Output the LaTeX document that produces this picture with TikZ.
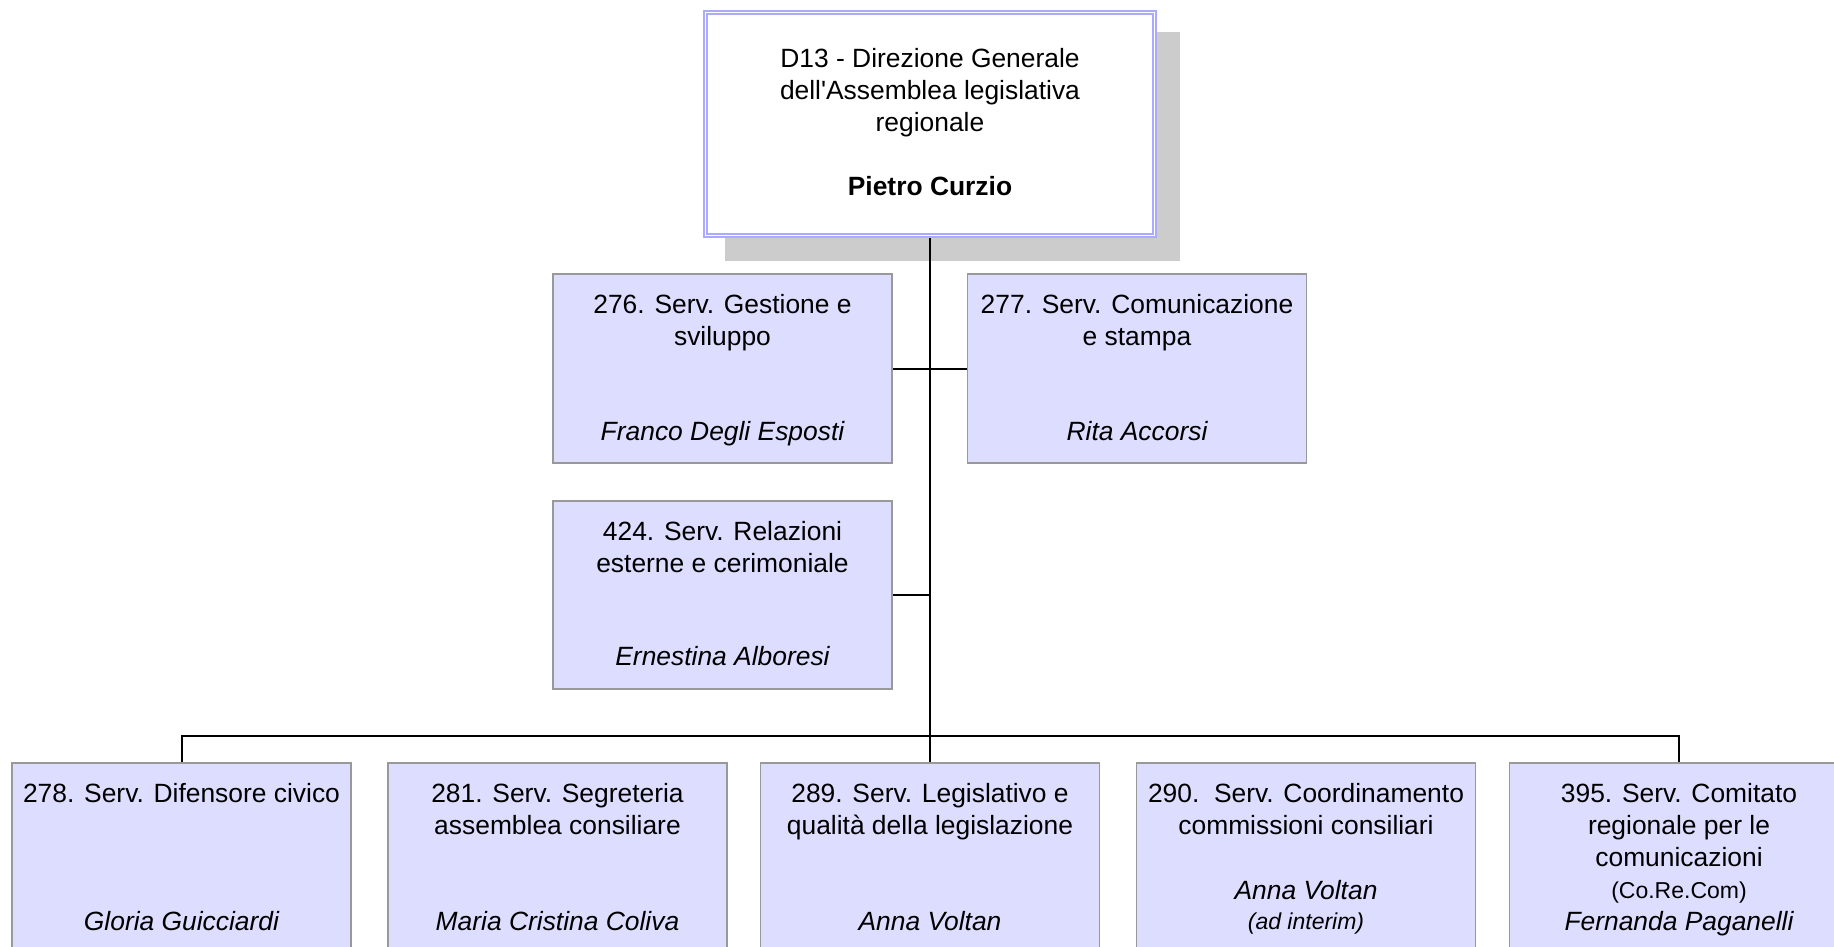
\documentclass[tikz,border=0pt]{standalone}
\usepackage{fontspec}
\setmainfont{Liberation Sans}
\usetikzlibrary{backgrounds}
\definecolor{boxfill}{RGB}{221,221,255}
\definecolor{boxline}{RGB}{153,153,153}
\definecolor{topline}{RGB}{170,170,255}
\definecolor{shadowgray}{RGB}{204,204,204}
\tikzset{
  unitbox/.style={rectangle, draw=boxline, fill=boxfill, line width=1.5pt, minimum width=339pt, inner sep=0pt},
  topbox/.style={rectangle, draw=topline, double=white, double distance=1.2pt, line width=1.7pt, fill=white, minimum width=449pt, minimum height=223pt, inner sep=0pt},
  txt/.style={anchor=base, inner sep=0pt, font=\fontsize{26.4}{30}\selectfont},
  nm/.style={anchor=base, inner sep=0pt, font=\fontsize{26.4}{30}\selectfont\itshape},
  bnm/.style={anchor=base, inner sep=0pt, font=\fontsize{26.4}{30}\selectfont\bfseries},
  smalltxt/.style={anchor=base, inner sep=0pt, font=\fontsize{23}{27}\selectfont},
  smallnm/.style={anchor=base, inner sep=0pt, font=\fontsize{23}{27}\selectfont\itshape},
  link/.style={line width=2pt, draw=black},
}
\begin{document}
\begin{tikzpicture}[x=1pt, y=-1pt]
\useasboundingbox (0,0) rectangle (1834,946);
\clip (0,0) rectangle (1834,946);

% top box
\node[topbox] (top) at (930,124) {};
\node[txt] (topA) at (930,67) {D13 - Direzione Generale};
\node[txt] (topB) at (930,99.3) {dell\textquotesingle Assemblea legislativa};
\node[txt] (topC) at (930,131.7) {regionale};
\node[bnm] (topD) at (930,195) {Pietro Curzio};

% staff boxes
\node[unitbox, minimum height=189pt] (b276) at (722.5,368.5) {};
\node[txt] (b276a) at (722.5,313) {276. Serv. Gestione e};
\node[txt] (b276b) at (722.5,345) {sviluppo};
\node[nm] (b276n) at (722.5,440) {Franco Degli Esposti};

\node[unitbox, minimum height=189pt] (b277) at (1137,368.5) {};
\node[txt] (b277a) at (1137,313) {277. Serv. Comunicazione};
\node[txt] (b277b) at (1137,345) {e stampa};
\node[nm] (b277n) at (1137,440) {Rita Accorsi};

\node[unitbox, minimum height=188pt] (b424) at (722.5,595) {};
\node[txt] (b424a) at (722.5,540) {424. Serv. Relazioni};
\node[txt] (b424b) at (722.5,572) {esterne e cerimoniale};
\node[nm] (b424n) at (722.5,665) {Ernestina Alboresi};

% bottom row
\node[unitbox, minimum height=190pt] (b278) at (181.5,858) {};
\node[txt] (b278a) at (181.5,802) {278. Serv. Difensore civico};
\node[nm] (b278n) at (181.5,930) {Gloria Guicciardi};

\node[unitbox, minimum height=190pt] (b281) at (557.5,858) {};
\node[txt] (b281a) at (557.5,802) {281. Serv. Segreteria};
\node[txt] (b281b) at (557.5,834) {assemblea consiliare};
\node[nm] (b281n) at (557.5,930) {Maria Cristina Coliva};

\node[unitbox, minimum height=190pt] (b289) at (930,858) {};
\node[txt] (b289a) at (930,802) {289. Serv. Legislativo e};
\node[txt] (b289b) at (930,834) {qualità della legislazione};
\node[nm] (b289n) at (930,930) {Anna Voltan};

\node[unitbox, minimum height=190pt] (b290) at (1306,858) {};
\node[txt] (b290a) at (1306,802) {290.\ \ Serv. Coordinamento};
\node[txt] (b290b) at (1306,834) {commissioni consiliari};
\node[nm] (b290n) at (1306,899) {Anna Voltan};
\node[smallnm] (b290i) at (1306,929) {(ad interim)};

\node[unitbox, minimum height=190pt] (b395) at (1679,858) {};
\node[txt] (b395a) at (1679,802) {395. Serv. Comitato};
\node[txt] (b395b) at (1679,834) {regionale per le};
\node[txt] (b395c) at (1679,866) {comunicazioni};
\node[smalltxt] (b395d) at (1679,898) {(Co.Re.Com)};
\node[nm] (b395n) at (1679,930) {Fernanda Paganelli};

\coordinate (busL) at (181.5,736);
\coordinate (busR) at (1679,736);

\begin{pgfonlayer}{background}
  \fill[shadowgray] (725,32) rectangle (1180,261);
  \draw[link] (top.south) -- (b289.north);
  \draw[link] (b276.east) -- (b277.west);
  \draw[link] (b424.east) -- (b424.east -| top.south);
  \draw[link] (b278.north) -- (busL) -- (busR) -- (b395.north);
\end{pgfonlayer}
\end{tikzpicture}
\end{document}
